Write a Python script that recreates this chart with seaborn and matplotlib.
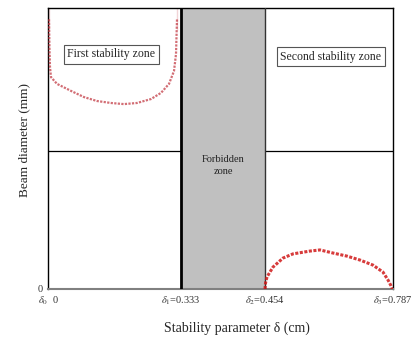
import numpy as np
import pandas as pd
import matplotlib
matplotlib.use("Agg")
import matplotlib.pyplot as plt
import seaborn as sns

# ---- data ----
zone_bounds = [0.0, 0.333, 0.454, 0.787]          # delta0..delta3 (cm)
tick_labels = [r"$\delta_0$  0", r"$\delta_1$=0.333", r"$\delta_2$=0.454", r"$\delta_3$=0.787"]

z1_delta = [0.0025, 0.0025, 0.0038, 0.0050, 0.0075, 0.0225, 0.0576, 0.0900, 0.1227,
            0.1577, 0.1900, 0.2228, 0.2579, 0.2830, 0.3030, 0.3155, 0.3205, 0.3230, 0.3230]
z1_diam = [1.000, 0.920, 0.850, 0.790, 0.754, 0.730, 0.705, 0.683, 0.669,
           0.662, 0.658, 0.662, 0.676, 0.698, 0.730, 0.776, 0.836, 0.922, 1.000]

z2_delta = [0.4540, 0.4553, 0.4592, 0.4748, 0.5008, 0.5268, 0.5710, 0.5970, 0.6310,
            0.6673, 0.7012, 0.7350, 0.7610, 0.7740, 0.7820, 0.7850]
z2_diam = [0.000, 0.021, 0.043, 0.078, 0.110, 0.125, 0.135, 0.139, 0.128,
           0.117, 0.103, 0.085, 0.060, 0.032, 0.011, 0.000]

sep_level = 0.49

# ---- style ----
sns.set_theme(style="white")
plt.rcParams["font.family"] = ["Liberation Serif", "DejaVu Serif"]
plt.rcParams["mathtext.fontset"] = "stix"

fig = plt.figure(figsize=(4.16, 3.40), dpi=100)
ax = fig.add_axes([48 / 416, 51 / 340, 345 / 416, 281 / 340])

# piecewise-linear display scale (schematic axis)
pos = [0.0, 0.3855, 0.629, 1.0]
def fwd(x):
    return np.interp(x, zone_bounds, pos)
def inv(y):
    return np.interp(y, pos, zone_bounds)
ax.set_xscale("function", functions=(fwd, inv))

ax.axhline(sep_level, color="black", lw=0.9, zorder=1)
ax.axvspan(zone_bounds[1], zone_bounds[2], facecolor="#c0c0c0", edgecolor="none", zorder=2)
ax.axvline(zone_bounds[1], color="black", lw=2.0, zorder=3)
ax.axvline(zone_bounds[2], color="#333333", lw=1.0, zorder=3)

d1 = pd.DataFrame({"delta": z1_delta, "diam": z1_diam})
d2 = pd.DataFrame({"delta": z2_delta, "diam": z2_diam})
sns.lineplot(data=d1, x="delta", y="diam", ax=ax, color="#c0303a", lw=1.6,
             linestyle=(0, (1, 0.6)), sort=False, zorder=4, alpha=0.7)
sns.lineplot(data=d2, x="delta", y="diam", ax=ax, color="#d01818", lw=2.2,
             linestyle=(0, (1, 0.5)), sort=False, zorder=4, alpha=0.85)

ax.set_xlim(zone_bounds[0], zone_bounds[3])
ax.set_ylim(0, 1)
ax.set_xticks(zone_bounds)
ax.set_xticklabels(tick_labels, fontsize=7.5, color="#333333")
ax.set_yticks([0])
ax.set_yticklabels(["0"], fontsize=7.5, color="#333333")
ax.tick_params(length=0, pad=4)

for s in ["left", "top", "right"]:
    ax.spines[s].set_color("black")
    ax.spines[s].set_linewidth(1.0)
ax.spines["bottom"].set_color("#808080")
ax.spines["bottom"].set_linewidth(1.5)

ax.set_xlabel("Stability parameter δ (cm)", fontsize=10)
ax.set_ylabel("Beam diameter (mm)", fontsize=9.5)
ax.xaxis.set_label_coords((237 - 48) / 345, -0.115)
ax.yaxis.set_label_coords(-0.052, 0.53)

box = dict(boxstyle="square,pad=0.3", facecolor="white", edgecolor="#555555", lw=0.8)
ax.text(0.158, 0.836, "First stability zone", fontsize=8.5, ha="center", va="center",
        bbox=box, zorder=5)
ax.text(0.625, 0.826, "Second stability zone", fontsize=8.5, ha="center", va="center",
        bbox=box, zorder=5)
ax.text(0.3935, 0.44, "Forbidden\nzone", fontsize=7.5, ha="center", va="center",
        color="#222222", linespacing=1.4, zorder=5)

fig.savefig("out.png", dpi=100, facecolor="white")
